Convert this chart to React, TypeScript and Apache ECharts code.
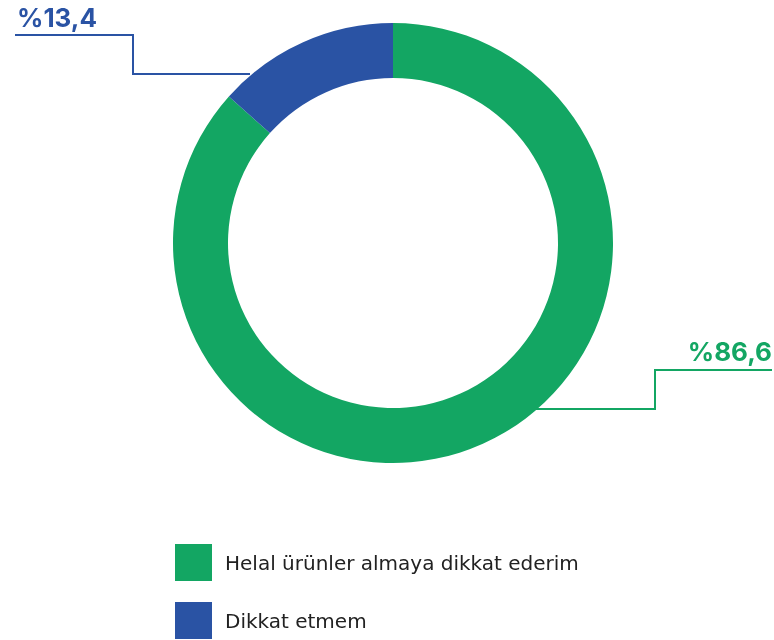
import React, { useEffect, useRef } from "react";
import * as echarts from "echarts";

const categories = ["Helal ürünler almaya dikkat ederim", "Dikkat etmem"];
const values = [86.6, 13.4];
const colors = ["#13a663", "#2a53a4"];

export default function App() {
  const ref = useRef<HTMLDivElement>(null);
  useEffect(() => {
    const chart = echarts.init(ref.current!, null, { renderer: "svg" });
    const cx = 393;
    const cy = 243;
    const rOuter = 220;
    const rInner = 165;
    const W = 774;
    const labelLines: Record<number, number[][]> = {
      0: [
        [cx + 140, cy + 166],
        [cx + 262, cy + 166],
        [cx + 262, cy + 127],
        [W - 2, cy + 127],
      ],
      1: [
        [cx - 143, cy - 169],
        [cx - 260, cy - 169],
        [cx - 260, cy - 208],
        [cx - 378, cy - 208],
      ],
    };
    chart.setOption({
      animation: false,
      legend: {
        orient: "vertical",
        left: 175,
        top: 544,
        padding: 0,
        itemWidth: 37,
        itemHeight: 37,
        itemGap: 21,
        icon: "rect",
        textStyle: {
          fontFamily: "DejaVu Sans",
          fontSize: 20,
          color: "#222",
          padding: [0, 0, 0, 8],
        },
        data: categories,
      },
      series: [
        {
          type: "pie",
          center: [cx, cy],
          radius: [rInner, rOuter],
          startAngle: 90,
          clockwise: true,
          avoidLabelOverlap: false,
          data: categories.map((name, i) => ({
            name,
            value: values[i],
            itemStyle: { color: colors[i] },
            label: { color: colors[i] },
            labelLine: { lineStyle: { color: colors[i], width: 2 } },
          })),
          label: {
            show: true,
            formatter: (p: any) => "%" + String(p.value).replace(".", ","),
            fontFamily: "Inter",
            fontWeight: "bold",
            fontSize: 26,
          },
          labelLine: { show: true, lineStyle: { width: 2 } },
          labelLayout: (params: any) => {
            const i = params.dataIndex;
            if (i === 0) {
              return {
                x: W - 2,
                y: cy + 121,
                align: "right",
                verticalAlign: "bottom",
                labelLinePoints: labelLines[0],
              };
            }
            return {
              x: cx - 376,
              y: cy - 213,
              align: "left",
              verticalAlign: "bottom",
              labelLinePoints: labelLines[1],
            };
          },
        },
      ],
    });
    return () => chart.dispose();
  }, []);
  return (
    <div
      ref={ref}
      style={{ position: "fixed", left: 0, top: 0, width: 774, height: 640 }}
    />
  );
}
